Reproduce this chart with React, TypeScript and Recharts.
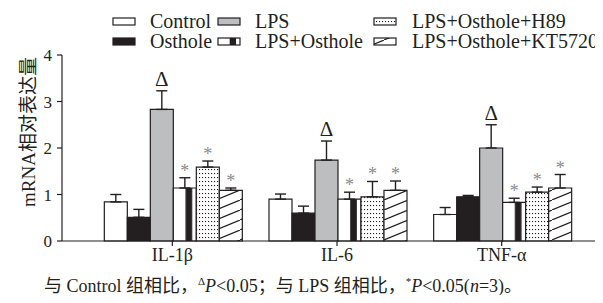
import React from "react";
import { Bar, BarChart, ErrorBar, LabelList, Legend, XAxis, YAxis } from "recharts";

const genes = ["IL-1β", "IL-6", "TNF-α"];
const controlMean = [0.84, 0.9, 0.57];
const controlErr = [0.16, 0.11, 0.15];
const ostholeMean = [0.51, 0.6, 0.95];
const ostholeErr = [0.17, 0.15, 0.03];
const lpsMean = [2.83, 1.74, 2.0];
const lpsErr = [0.4, 0.41, 0.5];
const lpsOstMean = [1.14, 0.9, 0.83];
const lpsOstErr = [0.22, 0.15, 0.09];
const h89Mean = [1.59, 0.95, 1.05];
const h89Err = [0.13, 0.33, 0.11];
const ktMean = [1.09, 1.09, 1.14];
const ktErr = [0.05, 0.2, 0.29];
const yTicks = [0, 1, 2, 3, 4];

const serif = '"Liberation Serif", "Times New Roman", "Noto Sans CJK SC", serif';
const ink = "#231f20";

const series = [
  { key: "control", name: "Control", mean: controlMean, err: controlErr, fill: "#ffffff", mark: "" },
  { key: "osthole", name: "Osthole", mean: ostholeMean, err: ostholeErr, fill: "#231f20", mark: "" },
  { key: "lps", name: "LPS", mean: lpsMean, err: lpsErr, fill: "#bcbec0", mark: "Δ" },
  { key: "lpsOst", name: "LPS+Osthole", mean: lpsOstMean, err: lpsOstErr, fill: "url(#vstripe)", mark: "*" },
  { key: "h89", name: "LPS+Osthole+H89", mean: h89Mean, err: h89Err, fill: "url(#dots)", mark: "*" },
  { key: "kt", name: "LPS+Osthole+KT5720", mean: ktMean, err: ktErr, fill: "url(#diag)", mark: "*" },
];

const data = genes.map((gene, i) => {
  const row: any = { gene };
  series.forEach((s) => {
    row[s.key] = s.mean[i];
    row[s.key + "Err"] = [0, s.err[i]];
  });
  return row;
});

// legend slots: [swatch x, text x, row]
const legendSlots = [
  [113, 150, 0],
  [113, 150, 1],
  [218, 255, 0],
  [218, 255, 1],
  [374, 412, 0],
  [374, 412, 1],
];

const markLabel = (means: number[], errs: number[], mark: string) => (props: any) => {
  const { x, y, width, height, value, index } = props;
  if (!mark) return null;
  const idx = typeof index === "number" ? index : means.indexOf(Number(value));
  const ppu = Number(height) / Number(value);
  const top = Number(y) - errs[idx] * ppu;
  const cx = Number(x) + Number(width) / 2;
  if (mark === "Δ") {
    return (
      <text x={cx} y={top - 5} textAnchor="middle" fontSize={21} fill={ink} style={{ fontFamily: serif }}>
        Δ
      </text>
    );
  }
  return (
    <text x={cx} y={top - 1} textAnchor="middle" fontSize={18} fill="#8a8a8a" style={{ fontFamily: serif }}>
      *
    </text>
  );
};

const renderLegend = () => (
  <svg width={603} height={52} style={{ display: "block" }}>
    {series.map((s, i) => {
      const [sx, tx, row] = legendSlots[i];
      const top = 18 + row * 20;
      return (
        <g key={s.key}>
          <rect x={sx} y={top} width={22} height={7} fill={s.fill} stroke={ink} strokeWidth={1.2} />
          <text x={tx} y={top + 10} fontSize={20} fill={ink} style={{ fontFamily: serif }}>
            {s.name}
          </text>
        </g>
      );
    })}
  </svg>
);

const YLabel = () => {
  const cx = 28;
  const cy = 132;
  return (
    <text
      x={cx}
      y={cy}
      transform={`rotate(-90 ${cx} ${cy})`}
      textAnchor="middle"
      dominantBaseline="central"
      fontSize={19}
      fill={ink}
      style={{ fontFamily: serif }}
    >
      mRNA相对表达量
    </text>
  );
};

const supStyle: React.CSSProperties = { fontSize: 11, verticalAlign: "super", lineHeight: 0 };

export default function App() {
  return (
    <div style={{ position: "relative", width: 603, height: 303, margin: -8, fontFamily: serif, background: "#fff" }}>
      <BarChart
        width={603}
        height={303}
        data={data}
        margin={{ top: 55, right: 1, left: 22, bottom: 32 }}
        barCategoryGap="8.7%"
        barGap={0}
        style={{ fontFamily: serif }}
      >
        <defs>
          <pattern id="vstripe" patternUnits="objectBoundingBox" patternContentUnits="objectBoundingBox" width={1} height={1}>
            <rect x={0} y={0} width={1} height={1} fill="#fff" />
            <rect x={0.53} y={0} width={0.29} height={1} fill={ink} />
          </pattern>
          <pattern id="dots" patternUnits="userSpaceOnUse" width={3} height={4}>
            <rect x={0} y={0} width={3} height={4} fill="#fff" />
            <rect x={1} y={1} width={1.1} height={1.1} fill={ink} />
          </pattern>
          <pattern id="diag" patternUnits="userSpaceOnUse" width={24} height={10}>
            <rect x={0} y={0} width={24} height={10} fill="#fff" />
            <path d="M-2,10.8 L26,-0.8" stroke={ink} strokeWidth={1.2} />
          </pattern>
        </defs>
        <Legend
          layout="horizontal"
          verticalAlign="middle"
          align="center"
          wrapperStyle={{ top: 0, left: 0, width: 603, height: 52 }}
          content={renderLegend}
        />
        <XAxis
          dataKey="gene"
          height={30}
          padding={{ left: 28, right: 18 }}
          tickSize={5}
          tick={{ fontSize: 18, fill: ink, style: { fontFamily: serif } }}
          axisLine={{ stroke: ink, strokeWidth: 1.2 }}
          tickLine={{ stroke: ink, strokeWidth: 1.2 }}
        />
        <YAxis
          width={40}
          domain={[0, 4]}
          ticks={yTicks}
          interval={0}
          tickSize={5}
          tickMargin={5}
          tick={{ fontSize: 17, fill: ink, style: { fontFamily: serif } }}
          axisLine={{ stroke: ink, strokeWidth: 1.2 }}
          tickLine={{ stroke: ink, strokeWidth: 1.2 }}
          label={<YLabel />}
        />
        {series.map((s) => (
          <Bar key={s.key} dataKey={s.key} name={s.name} fill={s.fill} stroke={ink} strokeWidth={1.2} isAnimationActive={false}>
            <ErrorBar dataKey={s.key + "Err"} width={5.5} stroke={ink} strokeWidth={1.4} isAnimationActive={false} />
            <LabelList dataKey={s.key} content={markLabel(s.mean, s.err, s.mark)} />
          </Bar>
        ))}
      </BarChart>
      <div
        style={{
          position: "absolute",
          left: 0,
          top: 276,
          width: 566,
          lineHeight: "20px",
          textAlign: "center",
          fontSize: 18,
          color: ink,
          whiteSpace: "nowrap",
          fontFamily: serif,
        }}
      >
        与 Control 组相比，<span style={supStyle}>Δ</span>
        <i>P</i>&lt;0.05；与 LPS 组相比，<span style={supStyle}>*</span>
        <i>P</i>&lt;0.05(<i>n</i>=3)。
      </div>
    </div>
  );
}
